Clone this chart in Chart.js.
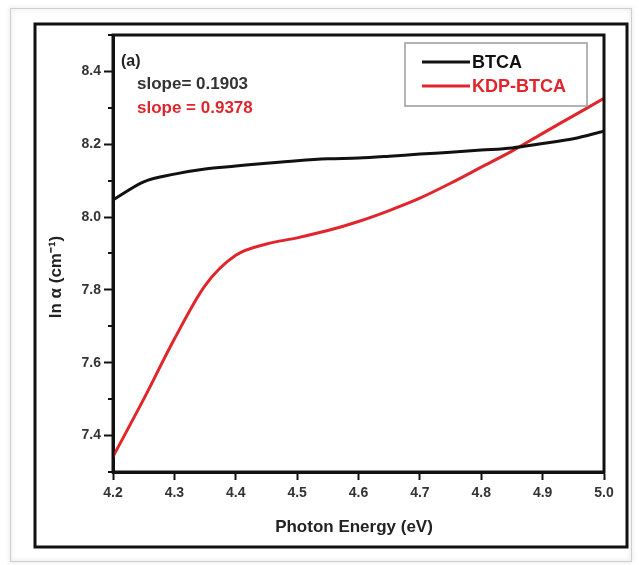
<!DOCTYPE html>
<html>
<head>
<meta charset="utf-8">
<script src="https://cdn.jsdelivr.net/npm/chart.js@4"></script>
<style>
  html, body { margin: 0; padding: 0; background: #fff; }
  #wrap { width: 639px; height: 565px; }
</style>
</head>
<body>
<div id="wrap"><canvas id="absChart" width="639" height="565"></canvas></div>
<script>
// data
const energy = [4.2, 4.25, 4.3, 4.35, 4.4, 4.45, 4.5, 4.55, 4.6, 4.65, 4.7, 4.75, 4.8, 4.85, 4.9, 4.95, 5.0];
const btca = [8.047, 8.097, 8.118, 8.132, 8.14, 8.148, 8.155, 8.16, 8.162, 8.167, 8.173, 8.178, 8.184, 8.19, 8.202, 8.215, 8.236];
const kdpBtca = [7.342, 7.50, 7.665, 7.812, 7.895, 7.926, 7.943, 7.963, 7.988, 8.018, 8.052, 8.093, 8.137, 8.181, 8.23, 8.278, 8.326];
const seriesNames = ['BTCA', 'KDP-BTCA'];
const seriesColors = ['#111111', '#e0262c'];
const xTicks = [4.2, 4.3, 4.4, 4.5, 4.6, 4.7, 4.8, 4.9, 5.0];
const yTicks = [7.4, 7.6, 7.8, 8.0, 8.2, 8.4];
const yMinorTicks = [7.3, 7.5, 7.7, 7.9, 8.1, 8.3, 8.5];
const slopeNotes = ['slope= 0.1903', 'slope = 0.9378'];

const FONT = '"Liberation Sans", Arial, sans-serif';

const toPoints = vals => energy.map((e, i) => ({ x: e, y: vals[i] }));

// frame, minor ticks, legend, notes, axis titles
const decor = {
    id: 'decor',
    beforeDraw(chart) {
        const c = chart.ctx;
        c.save();
        c.fillStyle = '#fff';
        c.fillRect(0, 0, chart.width, chart.height);
        c.shadowColor = 'rgba(0,0,0,0.25)';
        c.shadowBlur = 4;
        c.strokeStyle = '#cfcfcf';
        c.lineWidth = 1;
        c.strokeRect(10.5, 8.5, 621, 553);
        c.shadowBlur = 0;
        c.strokeStyle = '#111';
        c.lineWidth = 3;
        c.strokeRect(35, 24, 592, 523);
        c.restore();
    },
    afterDraw(chart) {
        const c = chart.ctx;
        const a = chart.chartArea;
        const y = chart.scales.y;
        c.save();
        // plot box
        c.strokeStyle = '#111';
        c.lineWidth = 3;
        c.strokeRect(a.left, a.top, a.right - a.left, a.bottom - a.top);
        // minor y ticks
        c.lineWidth = 2;
        yMinorTicks.forEach(v => {
            const py = Math.round(y.getPixelForValue(v));
            c.beginPath();
            c.moveTo(a.left - 5, py);
            c.lineTo(a.left, py);
            c.stroke();
        });
        // legend
        c.strokeStyle = '#9a9a9a';
        c.lineWidth = 1.5;
        c.strokeRect(405, 43, 182, 63);
        c.font = 'bold 18px ' + FONT;
        c.textBaseline = 'middle';
        chart.data.datasets.forEach((ds, i) => {
            const ly = 62 + i * 24;
            c.strokeStyle = ds.borderColor;
            c.lineWidth = 3;
            c.beginPath();
            c.moveTo(422, ly);
            c.lineTo(470, ly);
            c.stroke();
            c.fillStyle = i === 0 ? '#111' : ds.borderColor;
            c.fillText(ds.label, 472, ly + 1);
        });
        // notes
        c.fillStyle = '#222';
        c.font = 'bold 16px ' + FONT;
        c.fillText('(a)', 121, 62);
        c.font = 'bold 17px ' + FONT;
        c.fillStyle = '#333';
        c.fillText(slopeNotes[0], 137, 84);
        c.fillStyle = seriesColors[1];
        c.fillText(slopeNotes[1], 137, 108);
        // axis titles
        c.fillStyle = '#222';
        c.textAlign = 'center';
        c.font = 'bold 17px ' + FONT;
        c.fillText('Photon Energy (eV)', 354, 527);
        c.translate(56, 277);
        c.rotate(-Math.PI / 2);
        c.fillText('ln \u03b1 (cm\u207b\u00b9)', 0, 0);
        c.restore();
    }
};

const ctx = document.getElementById('absChart').getContext('2d');
const absChart = new Chart(ctx, {
    type: 'line',
    data: {
        datasets: [
            {
                label: seriesNames[0],
                data: toPoints(btca),
                borderColor: seriesColors[0],
                borderWidth: 3,
                pointRadius: 0,
                cubicInterpolationMode: 'monotone',
            },
            {
                label: seriesNames[1],
                data: toPoints(kdpBtca),
                borderColor: seriesColors[1],
                borderWidth: 3,
                pointRadius: 0,
                cubicInterpolationMode: 'monotone',
            },
        ],
    },
    options: {
        responsive: false,
        devicePixelRatio: 1,
        animation: false,
        layout: { padding: { top: 35, right: 35, left: 0, bottom: 0 } },
        plugins: {
            legend: { display: false },
            tooltip: { enabled: false },
        },
        scales: {
            x: {
                type: 'linear',
                min: 4.2,
                max: 5.0,
                afterFit: s => { s.height = 93; },
                afterBuildTicks: s => { s.ticks = xTicks.map(v => ({ value: v })); },
                grid: { drawOnChartArea: false, tickLength: 8, tickWidth: 2, tickColor: '#111' },
                border: { color: '#111', width: 3 },
                ticks: {
                    padding: 5,
                    color: '#333',
                    font: { family: FONT, size: 14, weight: 'bold' },
                    callback: v => v.toFixed(1),
                    maxRotation: 0,
                },
            },
            y: {
                type: 'linear',
                min: 7.3,
                max: 8.5,
                afterFit: s => { s.width = 113; },
                afterBuildTicks: s => { s.ticks = yTicks.map(v => ({ value: v })); },
                grid: { drawOnChartArea: false, tickLength: 9, tickWidth: 2, tickColor: '#111' },
                border: { color: '#111', width: 3 },
                ticks: {
                    padding: 3,
                    color: '#333',
                    font: { family: FONT, size: 14, weight: 'bold' },
                    callback: v => v.toFixed(1),
                },
            },
        },
    },
    plugins: [decor],
});
</script>
</body>
</html>
